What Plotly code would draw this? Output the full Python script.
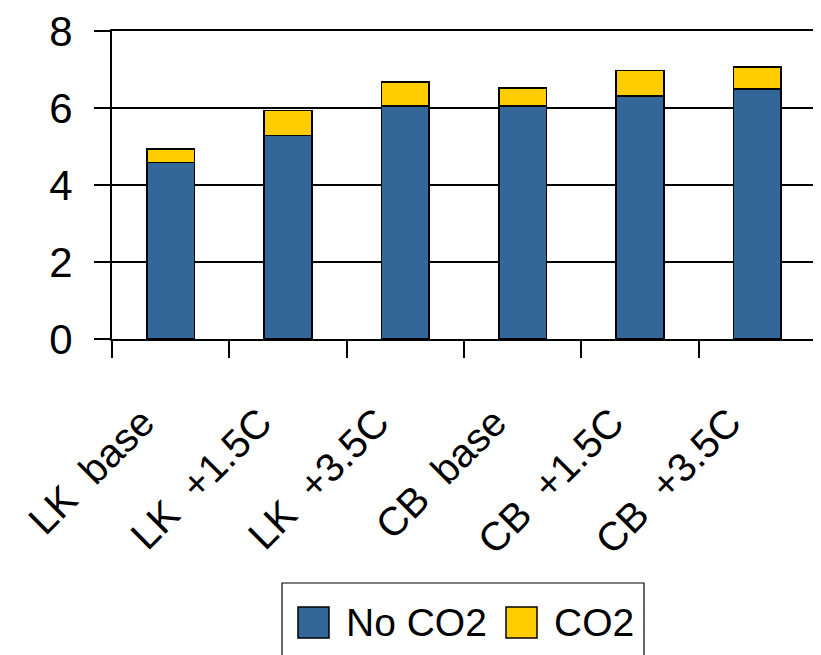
import plotly.graph_objects as go

categories = ["LK  base", "LK  +1.5C", "LK  +3.5C", "CB  base", "CB  +1.5C", "CB  +3.5C"]
no_co2 = [4.58, 5.29, 6.05, 6.05, 6.31, 6.50]
co2 = [0.35, 0.65, 0.62, 0.47, 0.66, 0.57]
y_ticks = [0, 2, 4, 6, 8]
series_names = ["No CO2", "CO2"]
series_colors = ["#336699", "#FFCC00"]

FONT = "Liberation Sans Narrow, Arial Narrow, Liberation Sans, Arial, sans-serif"

W, H = 821, 655
ML, MR, MT, MB = 104, 13, 23, 324
PW, PH = W - ML - MR, H - MT - MB


def px(x):
    return (x - ML) / PW


def py(y):
    return (H - MB - y) / PH


fig = go.Figure()
for name, vals, col in zip(series_names, [no_co2, co2], series_colors):
    fig.add_trace(go.Bar(x=categories, y=vals, name=name, showlegend=False,
                         marker=dict(color=col, line=dict(color="black", width=1.5))))

# legend drawn as shapes + text (to get large square swatches)
fig.add_shape(type="rect", xref="paper", yref="paper",
              x0=px(274), x1=px(636), y0=py(575), y1=py(665),
              line=dict(color="black", width=1.2), fillcolor="white", layer="above")
sw_left = [290, 498]
txt_left = [336, 544]
for name, col, sx, tx in zip(series_names, series_colors, sw_left, txt_left):
    fig.add_shape(type="rect", xref="paper", yref="paper",
                  x0=px(sx), x1=px(sx + 31), y0=py(599), y1=py(630),
                  line=dict(color="black", width=1.5), fillcolor=col, layer="above")
    fig.add_annotation(text=name, xref="paper", yref="paper", x=px(tx), y=py(614),
                       xanchor="left", yanchor="middle", showarrow=False,
                       font=dict(size=39, family=FONT, color="black"))

fig.update_layout(
    width=W, height=H,
    margin=dict(l=ML, r=MR, t=MT, b=MB, autoexpand=False),
    barmode="stack", bargap=0.595,
    plot_bgcolor="white", paper_bgcolor="white",
    font=dict(family=FONT, color="black", size=42),
    showlegend=False,
    xaxis=dict(showline=True, linecolor="black", linewidth=2, mirror=True, automargin=False,
               ticks="outside", tickson="boundaries", ticklen=17, tickcolor="black", tickwidth=2,
               tickangle=-45, tickfont=dict(size=40, family=FONT), showgrid=False,
               ticklabelshift=-28, ticklabelstandoff=42, ticklabeloverflow="allow"),
    yaxis=dict(range=[0, 8], tickvals=y_ticks, showline=True, linecolor="black", linewidth=2,
               mirror=True, ticks="outside", ticklen=16, tickcolor="black", tickwidth=2,
               showgrid=True, gridcolor="black", gridwidth=1.5, zeroline=False, automargin=False,
               tickfont=dict(size=42, family=FONT), ticklabelstandoff=13,
               ticklabeloverflow="allow"),
)

fig.write_html("out.html")
